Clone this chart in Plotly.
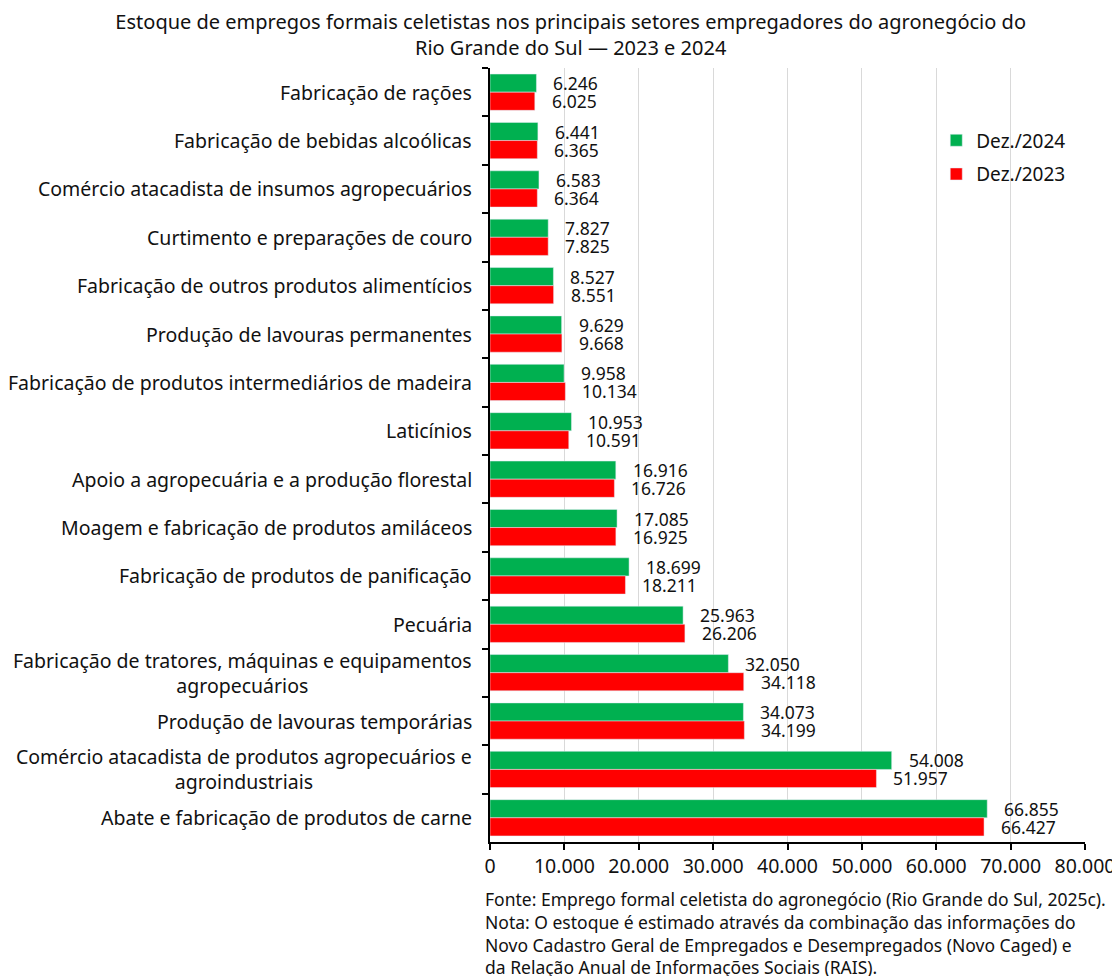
import plotly.graph_objects as go

categories = [
    "Fabricação de rações",
    "Fabricação de bebidas alcoólicas",
    "Comércio atacadista de insumos agropecuários",
    "Curtimento e preparações de couro",
    "Fabricação de outros produtos alimentícios",
    "Produção de lavouras permanentes",
    "Fabricação de produtos intermediários de madeira",
    "Laticínios",
    "Apoio a agropecuária e a produção florestal",
    "Moagem e fabricação de produtos amiláceos",
    "Fabricação de produtos de panificação",
    "Pecuária",
    "Fabricação de tratores, máquinas e equipamentos<br>agropecuários",
    "Produção de lavouras temporárias",
    "Comércio atacadista de produtos agropecuários e<br>agroindustriais",
    "Abate e fabricação de produtos de carne",
]
dez_2024 = [6246, 6441, 6583, 7827, 8527, 9629, 9958, 10953, 16916, 17085,
            18699, 25963, 32050, 34073, 54008, 66855]
dez_2023 = [6025, 6365, 6364, 7825, 8551, 9668, 10134, 10591, 16726, 16925,
            18211, 26206, 34118, 34199, 51957, 66427]
x_ticks = [0, 10000, 20000, 30000, 40000, 50000, 60000, 70000, 80000]

FONT = "Noto Sans"
TXT = "#111111"
fig = go.Figure()
fig.add_trace(go.Bar(y=categories, x=dez_2024, orientation="h", name="Dez./2024",
                     legendgroup="g2024", marker=dict(color="#00B050")))
fig.add_trace(go.Bar(y=categories, x=dez_2023, orientation="h", name="Dez./2023",
                     legendgroup="g2023", marker=dict(color="#FF0000")))

def fmt(v):
    return f"{v:,}".replace(",", ".")

annotations = []
for cat, v24, v23 in zip(categories, dez_2024, dez_2023):
    annotations.append(dict(x=v24, y=cat, text=fmt(v24), showarrow=False, xanchor="left",
                            xshift=15, yshift=9, font=dict(size=17.5, color=TXT)))
    annotations.append(dict(x=v23, y=cat, text=fmt(v23), showarrow=False, xanchor="left",
                            xshift=15, yshift=-9, font=dict(size=17.5, color=TXT)))
    # category labels (centered multi-line, right anchored)
    annotations.append(dict(x=0, xref="paper", y=cat, yref="y", text=cat, showarrow=False,
                            xanchor="right", align="center", xshift=-16,
                            font=dict(size=19.5, color=TXT)))

annotations.append(dict(
    xref="paper", yref="paper", x=-0.012, y=-0.056, xanchor="left", yanchor="top",
    align="left", showarrow=False, font=dict(size=17.5, color=TXT),
    text=("Fonte: Emprego formal celetista do agronegócio (Rio Grande do Sul, 2025c).<br>"
          "Nota: O estoque é estimado através da combinação das informações do<br>"
          "Novo Cadastro Geral de Empregados e Desempregados (Novo Caged) e<br>"
          "da Relação Anual de Informações Sociais (RAIS).")))

fig.update_layout(
    width=1112, height=968,
    margin=dict(l=482, r=35, t=60, b=134, autoexpand=False),
    paper_bgcolor="white", plot_bgcolor="white",
    font=dict(family=FONT, size=18, color=TXT),
    separators=",.",
    barmode="group", bargap=0.25, bargroupgap=0,
    title=dict(text="Estoque de empregos formais celetistas nos principais setores empregadores do agronegócio do<br>Rio Grande do Sul — 2023 e 2024",
               x=0.506, xanchor="center", y=0.978, yanchor="top",
               font=dict(size=20, color=TXT)),
    legend=dict(x=0.75, y=0.931, xanchor="left", yanchor="top", traceorder="grouped",
                tracegroupgap=6,
                bgcolor="rgba(0,0,0,0)", font=dict(size=19), itemwidth=30),
    annotations=annotations,
)
fig.update_xaxes(range=[0, 80000], tickvals=x_ticks, tickformat=",d",
                 showgrid=True, gridcolor="#D9D9D9", gridwidth=1,
                 showline=True, linecolor="black", linewidth=2,
                 ticks="outside", ticklen=6, tickcolor="black", tickwidth=2,
                 zeroline=False, tickfont=dict(size=19.5), automargin=False)
fig.update_yaxes(autorange="reversed", showline=True, linecolor="black", linewidth=2,
                 ticks="outside", ticklen=6, tickcolor="black", tickwidth=2,
                 tickson="boundaries", showgrid=False, showticklabels=False,
                 automargin=False)
fig.write_html("out.html")
